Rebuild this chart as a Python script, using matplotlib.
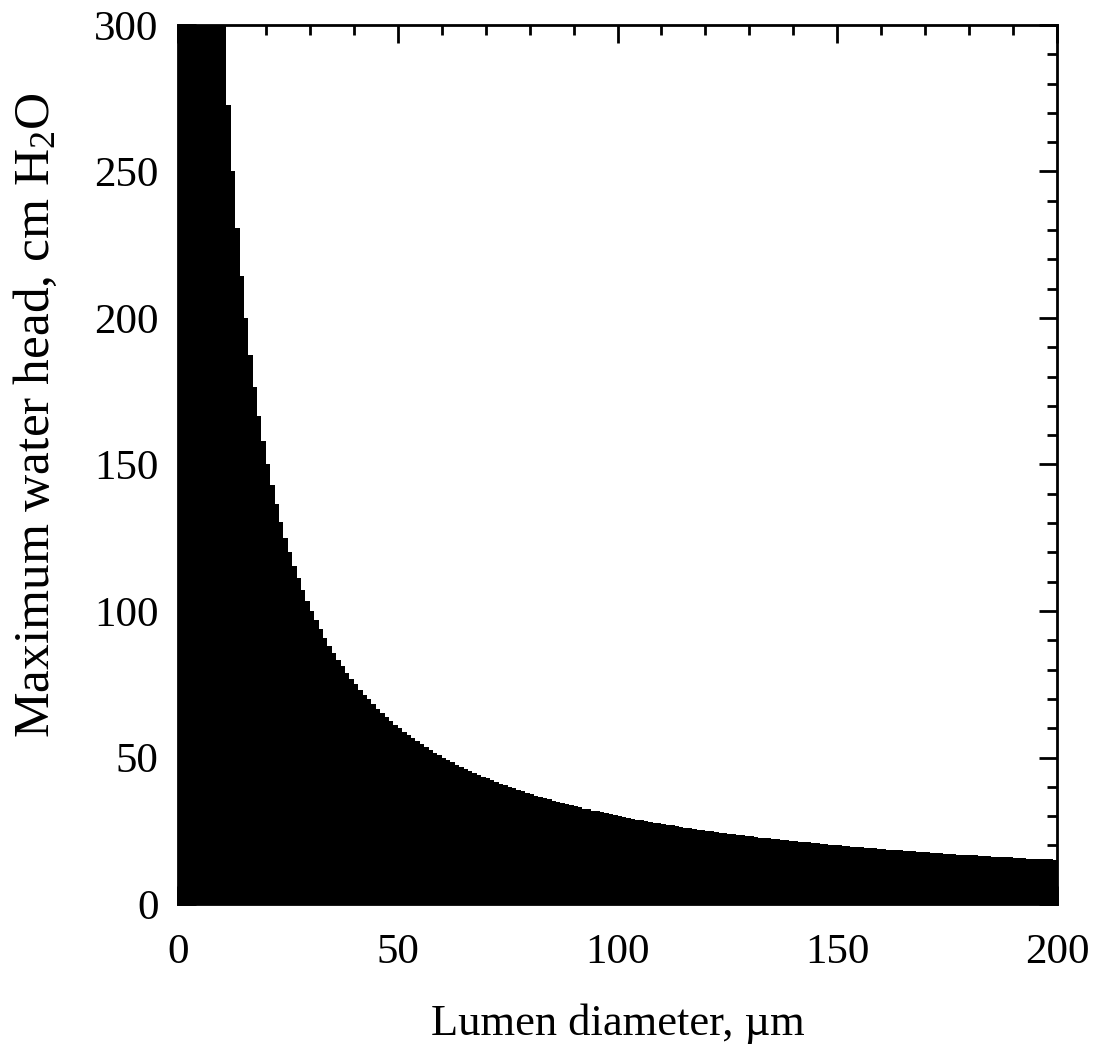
import matplotlib
matplotlib.use("Agg")
import matplotlib.pyplot as plt
from matplotlib.ticker import MultipleLocator

# Lumen diameter (µm), left edge of each bar
diameter = list(range(0, 201))
# Maximum water head (cm H2O) (bars above 300 are clipped)
head = [
    3000,
    3000, 1500, 1000, 750, 600, 500, 428.6, 375, 333.3, 300,
    272.7, 250, 230.8, 214.3, 200, 187.5, 176.5, 166.7, 157.9, 150,
    142.9, 136.4, 130.4, 125, 120, 115.4, 111.1, 107.1, 103.4, 100,
    96.8, 93.8, 90.9, 88.2, 85.7, 83.3, 81.1, 78.9, 76.9, 75,
    73.2, 71.4, 69.8, 68.2, 66.7, 65.2, 63.8, 62.5, 61.2, 60,
    58.8, 57.7, 56.6, 55.6, 54.5, 53.6, 52.6, 51.7, 50.8, 50,
    49.2, 48.4, 47.6, 46.9, 46.2, 45.5, 44.8, 44.1, 43.5, 42.9,
    42.3, 41.7, 41.1, 40.5, 40, 39.5, 39.0, 38.5, 38.0, 37.5,
    37.0, 36.6, 36.1, 35.7, 35.3, 34.9, 34.5, 34.1, 33.7, 33.3,
    33.0, 32.6, 32.3, 31.9, 31.6, 31.3, 30.9, 30.6, 30.3, 30,
    29.7, 29.4, 29.1, 28.8, 28.6, 28.3, 28.0, 27.8, 27.5, 27.3,
    27.0, 26.8, 26.5, 26.3, 26.1, 25.9, 25.6, 25.4, 25.2, 25,
    24.8, 24.6, 24.4, 24.2, 24, 23.8, 23.6, 23.4, 23.3, 23.1,
    22.9, 22.7, 22.6, 22.4, 22.2, 22.1, 21.9, 21.7, 21.6, 21.4,
    21.3, 21.1, 21.0, 20.8, 20.7, 20.5, 20.4, 20.3, 20.1, 20,
    19.9, 19.7, 19.6, 19.5, 19.4, 19.2, 19.1, 19.0, 18.9, 18.8,
    18.6, 18.5, 18.4, 18.3, 18.2, 18.1, 18.0, 17.9, 17.8, 17.6,
    17.5, 17.4, 17.3, 17.2, 17.1, 17.0, 16.9, 16.9, 16.8, 16.7,
    16.6, 16.5, 16.4, 16.3, 16.2, 16.1, 16.0, 16.0, 15.9, 15.8,
    15.7, 15.6, 15.5, 15.5, 15.4, 15.3, 15.2, 15.2, 15.1, 15.0,
]
x_ticks = [0, 50, 100, 150, 200]
y_ticks = [0, 50, 100, 150, 200, 250, 300]

plt.rcParams['font.family'] = ['Liberation Serif', 'DejaVu Serif']
plt.rcParams['mathtext.fontset'] = 'custom'
plt.rcParams['mathtext.rm'] = 'Liberation Serif'
plt.rcParams['mathtext.it'] = 'Liberation Serif:italic'

fig = plt.figure(figsize=(10.98, 10.49), dpi=100)
ax = fig.add_axes([0.1621, 0.1382, 0.8006, 0.8380])

ax.bar(diameter, head, width=1, align='edge', color='black', linewidth=0)

ax.set_xlim(0, 200)
ax.set_ylim(0, 300)
ax.set_xticks(x_ticks)
ax.set_yticks(y_ticks)
ax.xaxis.set_minor_locator(MultipleLocator(10))
ax.yaxis.set_minor_locator(MultipleLocator(10))

ax.tick_params(which='both', direction='in', top=True, right=True, width=2)
ax.tick_params(which='major', length=13, labelsize=31)
ax.tick_params(axis='x', which='major', pad=21)
ax.tick_params(axis='y', which='major', pad=14)
ax.tick_params(which='minor', length=7.5)
for s in ax.spines.values():
    s.set_linewidth(2)

ax.set_xlabel('Lumen diameter, µm', fontsize=32, labelpad=23)
ax.set_ylabel('Maximum water head, cm H$_2$O', fontsize=37)
ax.yaxis.set_label_coords(-0.134, 0.556)

fig.savefig('out.png', dpi=100)
